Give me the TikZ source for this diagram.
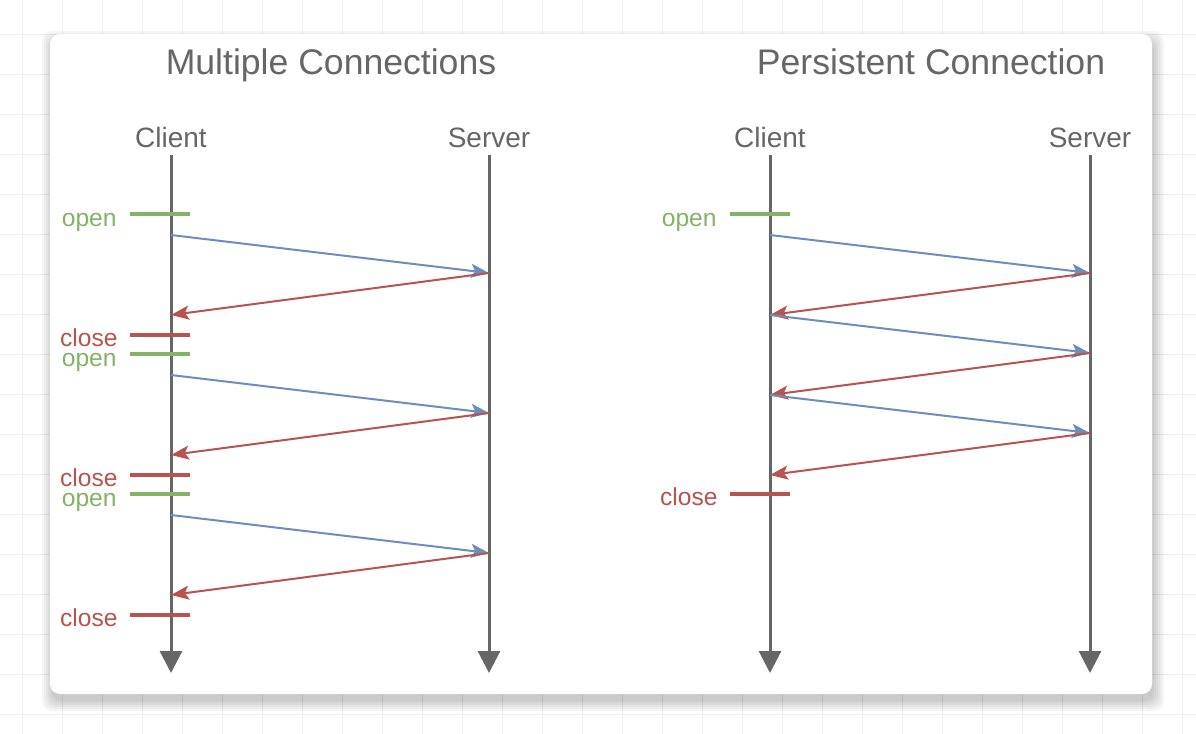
\documentclass[tikz,border=0pt]{standalone}
\usepackage{fontspec}
\setmainfont{Liberation Sans}
\usetikzlibrary{positioning, arrows.meta}

\definecolor{gridgray}{HTML}{EEEEEE}
\definecolor{txtgray}{HTML}{666666}
\definecolor{linegray}{HTML}{666666}
\definecolor{reqblue}{HTML}{6C8EBF}
\definecolor{resred}{HTML}{B85450}
\definecolor{opengreen}{HTML}{82B366}

\begin{document}
\begin{tikzpicture}[
    x=0.5pt, y=-0.5pt,
    title/.style={text=txtgray, inner sep=0pt, anchor=base, font=\fontsize{17.8}{20}\selectfont},
    actor/.style={text=txtgray, inner sep=0pt, anchor=base, font=\fontsize{14}{16}\selectfont},
    life/.style={draw=linegray, line width=1.5pt, -{Triangle[length=11pt, width=11pt]}},
    req/.style={draw=reqblue, line width=1pt, -{Stealth[length=9pt, width=7pt, inset=2pt]}},
    res/.style={draw=resred, line width=1pt, -{Stealth[length=9pt, width=7pt, inset=2pt]}},
    openbar/.style={draw=opengreen, line width=2.2pt},
    closebar/.style={draw=resred, line width=2.2pt},
    opentxt/.style={text=opengreen, inner sep=0pt, anchor=base east, shift={(-13,12)}, font=\fontsize{12.3}{14}\selectfont},
    closetxt/.style={text=resred, inner sep=0pt, anchor=base east, shift={(-12,11)}, font=\fontsize{12.3}{14}\selectfont},
  ]
  \useasboundingbox (0,0) rectangle (1196,734);
  % Background grid
  \fill[white] (0,0) rectangle (1196,734);
  \foreach \gx in {22,62,...,1196} \draw[gridgray, line width=0.5pt] (\gx,0) -- (\gx,734);
  \foreach \gy in {34,74,...,734} \draw[gridgray, line width=0.5pt] (0,\gy) -- (1196,\gy);
  % Card with soft shadow
  \foreach \s in {0,2,...,10}
    \fill[black, opacity=0.035, rounded corners=5pt] (52-\s,41-\s) rectangle (1154+\s,701+\s);
  \fill[white, rounded corners=5pt] (50,34) rectangle (1152,694);

  % Multiple connections
  \node[title] (title1) at (331,74) {Multiple Connections};
  \node[actor] (client1) at (171,147) {Client};
  \node[actor] (server1) at (489,147) {Server};
  \coordinate (c1top) at (171,155);
  \coordinate (c1end) at (171,673);
  \coordinate (s1top) at (489,155);
  \coordinate (s1end) at (489,673);
  \draw[life] (c1top) -- (c1end);
  \draw[life] (s1top) -- (s1end);
  \foreach \i in {0,1,2} {
    \pgfmathsetmacro{\o}{140*\i}
    \coordinate (op\i a) at (130,214+\o);
    \coordinate (op\i b) at (190,214+\o);
    \coordinate (cl\i a) at (130,335+\o);
    \coordinate (cl\i b) at (190,335+\o);
    \coordinate (rq\i a) at (171,235+\o);
    \coordinate (rq\i b) at (489,273+\o);
    \coordinate (rs\i b) at (171,315+\o);
    \draw[openbar] (op\i a) -- (op\i b);
    \node[opentxt] (open\i) at (op\i a) {open};
    \draw[req] (rq\i a) -- (rq\i b);
    \draw[res] (rq\i b) -- (rs\i b);
    \draw[closebar] (cl\i a) -- (cl\i b);
    \node[closetxt] (close\i) at (cl\i a) {close};
  }

  % Persistent connection
  \node[title] (title2) at (931,74) {Persistent Connection};
  \node[actor] (client2) at (770,147) {Client};
  \node[actor] (server2) at (1090,147) {Server};
  \coordinate (c2top) at (770,155);
  \coordinate (c2end) at (770,673);
  \coordinate (s2top) at (1090,155);
  \coordinate (s2end) at (1090,673);
  \draw[life] (c2top) -- (c2end);
  \draw[life] (s2top) -- (s2end);
  \coordinate (pop a) at (730,214);
  \coordinate (pop b) at (790,214);
  \draw[openbar] (pop a) -- (pop b);
  \node[opentxt] (popen) at (pop a) {open};
  \foreach \i in {0,1,2} {
    \pgfmathsetmacro{\o}{80*\i}
    \coordinate (prq\i a) at (770,235+\o);
    \coordinate (prq\i b) at (1090,273+\o);
    \coordinate (prs\i b) at (770,315+\o);
    \draw[req] (prq\i a) -- (prq\i b);
    \draw[res] (prq\i b) -- (prs\i b);
  }
  \coordinate (pcl a) at (730,494);
  \coordinate (pcl b) at (790,494);
  \draw[closebar] (pcl a) -- (pcl b);
  \node[closetxt] (pclose) at (pcl a) {close};
\end{tikzpicture}
\end{document}
